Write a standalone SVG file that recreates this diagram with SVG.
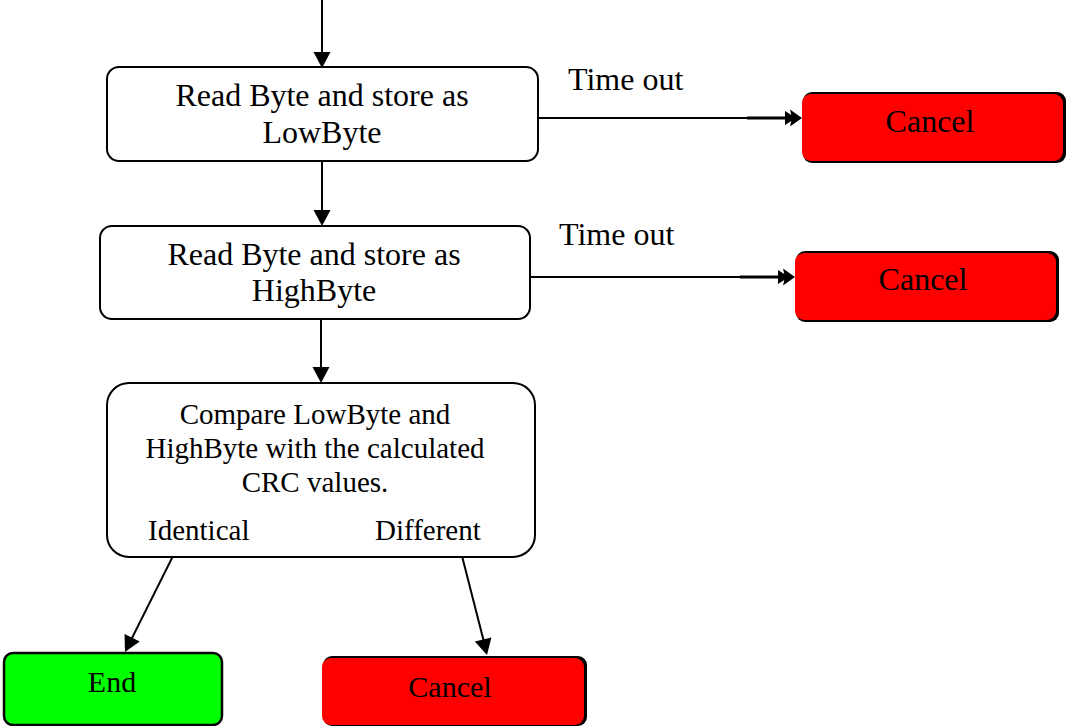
<svg xmlns="http://www.w3.org/2000/svg" xmlns:xlink="http://www.w3.org/1999/xlink" width="1066" height="726" viewBox="0 0 1066 726">
<defs>
<style>
.box{fill:#fff;stroke:#000;stroke-width:2}
.red{fill:#ff0000;stroke:none}
.shadow{fill:#000}
.green{fill:#00ff00;stroke:#000;stroke-width:2.5}
.t{font-family:"Liberation Serif","Times New Roman",serif;fill:#000}
.c{text-anchor:middle}
.line{stroke:#000;stroke-width:2;fill:none}
</style>
<path id="head" d="M0,0 L-16,-8.5 L-16,8.5 z" fill="#000"/>
<path id="head2" d="M-6,0 L-17,-7 L-17,7 z M0,0 L-12,-8.5 L-10,0 L-12,8.5 z" fill="#000"/>
</defs>
<g id="connectors">
<line class="line" x1="322" y1="0" x2="322" y2="58"/>
<use href="#head" xlink:href="#head" transform="translate(322,68) rotate(90)"/>
<line class="line" x1="322" y1="161" x2="322" y2="216"/>
<use href="#head" xlink:href="#head" transform="translate(322,226) rotate(90)"/>
<line class="line" x1="321" y1="319" x2="321" y2="373"/>
<use href="#head" xlink:href="#head" transform="translate(321,383) rotate(90)"/>
<line class="line" x1="538" y1="118" x2="790" y2="118"/>
<line x1="747" y1="118" x2="790" y2="118" stroke="#000" stroke-width="3"/>
<use href="#head2" xlink:href="#head2" transform="translate(802,118)"/>
<line class="line" x1="530" y1="277" x2="783" y2="277"/>
<line x1="740" y1="277" x2="783" y2="277" stroke="#000" stroke-width="3"/>
<use href="#head2" xlink:href="#head2" transform="translate(795,277)"/>
<line class="line" x1="173" y1="556" x2="130" y2="642"/>
<use href="#head" xlink:href="#head" transform="translate(125,652) rotate(116.57)"/>
<line class="line" x1="462" y1="556" x2="485" y2="646"/>
<use href="#head" xlink:href="#head" transform="translate(487,655) rotate(75.96)"/>
<text class="t" x="568" y="90" font-size="32">Time out</text>
<text class="t" x="559" y="245" font-size="32">Time out</text>
</g>
<g id="read-low">
<rect class="box" x="107" y="67" width="431" height="94" rx="12"/>
<text class="t c" x="322" y="106" font-size="32">Read Byte and store as</text>
<text class="t c" x="322" y="143" font-size="32">LowByte</text>
</g>
<g id="read-high">
<rect class="box" x="100" y="226" width="430" height="93" rx="12"/>
<text class="t c" x="314" y="265" font-size="32">Read Byte and store as</text>
<text class="t c" x="314" y="301" font-size="32">HighByte</text>
</g>
<g id="compare">
<rect class="box" x="107" y="383" width="428" height="174" rx="22"/>
<text class="t c" x="315" y="424" font-size="29">Compare LowByte and</text>
<text class="t c" x="315" y="458" font-size="29">HighByte with the calculated</text>
<text class="t c" x="315" y="492" font-size="29">CRC values.</text>
<text class="t" x="148" y="540" font-size="29">Identical</text>
<text class="t" x="375" y="540" font-size="29">Different</text>
</g>
<g id="cancel-1">
<rect class="shadow" x="803" y="92" width="263" height="71" rx="9"/>
<rect class="red" x="802" y="94" width="261" height="67" rx="9"/>
<text class="t c" x="930" y="132" font-size="32">Cancel</text>
</g>
<g id="cancel-2">
<rect class="shadow" x="796" y="251" width="263" height="71" rx="9"/>
<rect class="red" x="795" y="253" width="261" height="67" rx="9"/>
<text class="t c" x="923" y="290" font-size="32">Cancel</text>
</g>
<g id="end">
<rect class="green" x="4" y="653" width="218" height="72" rx="9"/>
<text class="t c" x="112" y="692" font-size="30">End</text>
</g>
<g id="cancel-3">
<rect class="shadow" x="323" y="656" width="264" height="70" rx="9"/>
<rect class="red" x="322" y="658" width="262" height="67" rx="9"/>
<text class="t c" x="450" y="697" font-size="30">Cancel</text>
</g>
</svg>
